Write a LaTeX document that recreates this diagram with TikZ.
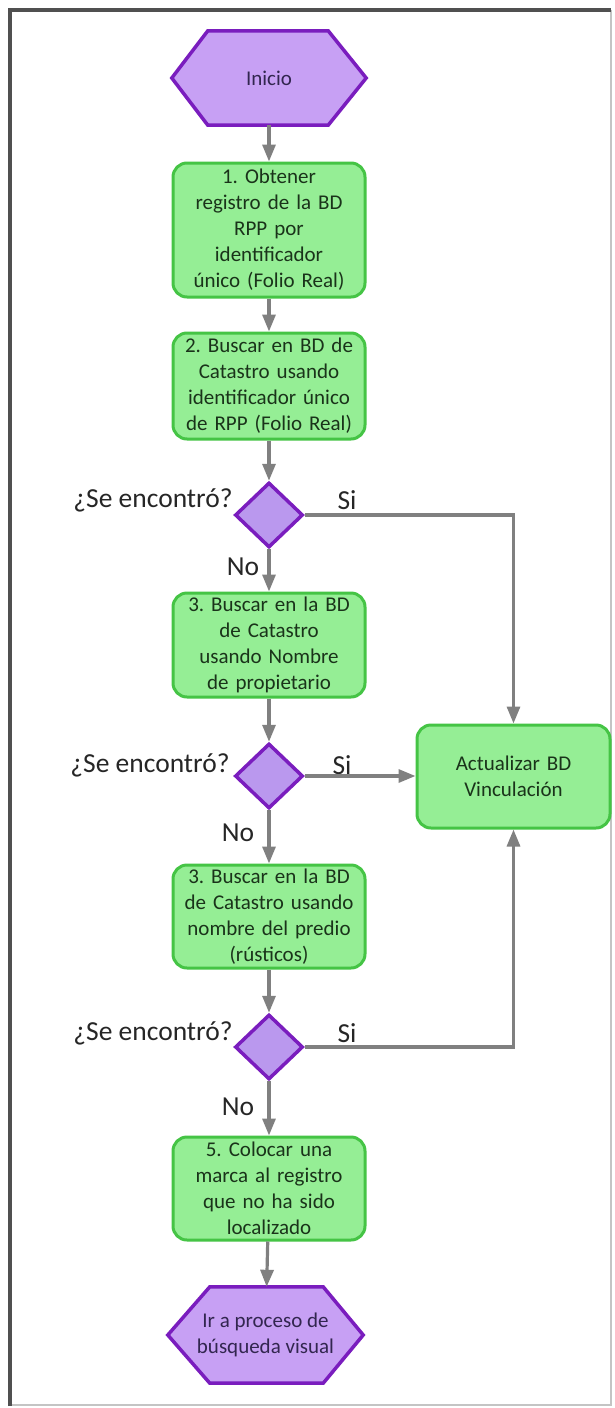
\documentclass[tikz,border=0pt]{standalone}
\usepackage{fontspec}
\setmainfont{Carlito}
\frenchspacing
\usetikzlibrary{shapes.geometric,arrows.meta,calc,backgrounds}
\definecolor{gfill}{HTML}{95EE95}
\definecolor{gline}{HTML}{45C445}
\definecolor{gtext}{HTML}{1A331A}
\definecolor{pfill}{HTML}{C7A0F4}
\definecolor{pline}{HTML}{7A1DBE}
\definecolor{dfill}{HTML}{BA98EE}
\definecolor{ptext}{HTML}{32264F}
\definecolor{arrgray}{HTML}{808080}
\definecolor{labtext}{HTML}{262626}
\definecolor{framedark}{HTML}{505050}
\definecolor{framelight}{HTML}{C4C4C4}
\tikzset{
  stepbox/.style={rectangle, rounded corners=14pt, draw=gline, fill=gfill, line width=3pt,
    minimum width=192pt, text width=186pt, align=center, inner sep=0pt, text=gtext,
    font=\fontsize{21}{26}\selectfont},
  hexbox/.style={rectangle, draw=none, inner sep=0pt, align=center, text=ptext,
    font=\fontsize{21}{26}\selectfont},
  hexline/.style={draw=pline, fill=pfill, line width=3.5pt, line join=miter},
  decision/.style={diamond, draw=pline, fill=dfill, line width=3.5pt, inner sep=0pt,
    minimum width=68pt, minimum height=65pt},
  arr/.style={draw=arrgray, line width=3.2pt, -{Triangle[length=17pt,width=13pt]}},
  lab/.style={text=labtext, inner sep=0pt, font=\fontsize{27.5}{30}\selectfont},
}
\begin{document}
\begin{tikzpicture}[x=1pt,y=-1pt]
\useasboundingbox (0,0) rectangle (614,1408);
% nodes
\node[hexbox, minimum width=194pt, minimum height=94pt] (ini) at (269,78) {Inicio};
\node[stepbox, minimum height=134pt] (b1) at (269,230) {1. Obtener\\registro de la BD\\RPP por\\identificador\\único (Folio Real)};
\node[stepbox, minimum height=106pt] (b2) at (269,386) {2. Buscar en BD de\\Catastro usando\\identificador único\\de RPP (Folio Real)};
\node[decision] (d1) at (269,515) {};
\node[stepbox, minimum height=104pt] (b3) at (269,645) {3. Buscar en la BD\\de Catastro\\usando Nombre\\de propietario};
\node[decision] (d2) at (269,776) {};
\node[stepbox, minimum height=103pt] (b4) at (269,916.5) {3. Buscar en la BD\\de Catastro usando\\nombre del predio\\(rústicos)};
\node[decision] (d3) at (269,1047) {};
\node[stepbox, minimum height=103pt] (b5) at (269,1188.5) {5. Colocar una\\marca al registro\\que no ha sido\\localizado};
\node[hexbox, minimum width=195pt, minimum height=96pt] (fin) at (265.5,1335) {Ir a proceso de\\búsqueda visual};
\node[stepbox, minimum width=193pt, text width=187pt, minimum height=103pt] (act) at (513.5,776.5) {Actualizar BD\\Vinculación};
% labels
\node[lab] (q1) at (153,500) {¿Se encontró?};
\node[lab] (q2) at (150,765) {¿Se encontró?};
\node[lab] (q3) at (153,1033) {¿Se encontró?};
\node[lab] (s1) at (347,500) {Si};
\node[lab] (s2) at (342,765) {Si};
\node[lab] (s3) at (347,1033) {Si};
\node[lab] (n1) at (243,567) {No};
\node[lab] (n2) at (238,833) {No};
\node[lab] (n3) at (238,1107) {No};
% background: page, frame, hexagons
\begin{scope}[on background layer]
\fill[white] (0,0) rectangle (614,1408);
\draw[framelight, line width=2.5pt] (10,1405) -- (611,1405) -- (611,10);
\draw[framedark, line width=3.5pt] (10,1406) -- (10,10) -- (611,10);
\draw[hexline] (ini.west) -- ($(ini.north west)+(36,0)$) -- ($(ini.north east)+(-38,0)$) -- (ini.east) -- ($(ini.south east)+(-38,0)$) -- ($(ini.south west)+(36,0)$) -- cycle;
\draw[hexline] (fin.west) -- ($(fin.north west)+(42,0)$) -- ($(fin.north east)+(-40,0)$) -- (fin.east) -- ($(fin.south east)+(-40,0)$) -- ($(fin.south west)+(42,0)$) -- cycle;
\end{scope}
% connectors
\draw[arr] (ini) -- (b1);
\draw[arr] (b1) -- (b2);
\draw[arr] (b2) -- (d1);
\draw[arr] (d1) -- (b3);
\draw[arr] (b3) -- (d2);
\draw[arr] (d2) -- (b4);
\draw[arr] (b4) -- (d3);
\draw[arr] (d3) -- (b5);
\draw[arr] (b5) -- (fin);
\draw[arr] (d1.east) -| (act.north);
\draw[arr] (d2.east) -- (act.west |- d2.east);
\draw[arr] (d3.east) -| (act.south);
\end{tikzpicture}
\end{document}
